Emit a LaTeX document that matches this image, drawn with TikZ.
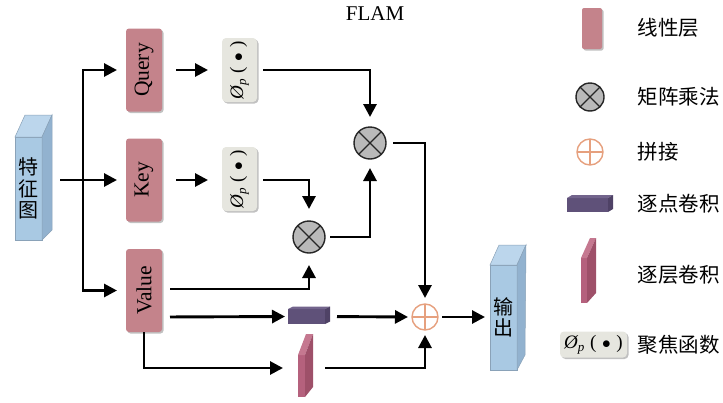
\documentclass[tikz,border=0pt]{standalone}
\usepackage{fontspec}
\setmainfont{Liberation Serif}
\newfontfamily\cjk{Noto Sans CJK SC}
\usetikzlibrary{calc,shadows,arrows.meta}

\definecolor{linc}{HTML}{C4838B}
\definecolor{focc}{HTML}{E6E6DF}
\definecolor{catc}{HTML}{E6A07E}
\definecolor{blufront}{HTML}{A9C9E3}
\definecolor{blutop}{HTML}{BCD6EC}
\definecolor{bluside}{HTML}{92B2CF}
\definecolor{bluedge}{HTML}{8AA2B8}
\definecolor{pwfront}{HTML}{5F5179}
\definecolor{pwtop}{HTML}{72648C}
\definecolor{pwside}{HTML}{4F4266}
\definecolor{dwfront}{HTML}{B5617D}
\definecolor{dwtop}{HTML}{C57890}
\definecolor{dwside}{HTML}{9E5069}

% focusing function symbol
\newcommand{\phitext}{{\itshape Ø}\raisebox{-0.35ex}{\fontsize{13}{13}\selectfont\itshape p}\hspace{0.3em}(\hspace{0.3em}$\bullet$\hspace{0.3em})}

\begin{document}
\begin{tikzpicture}[x=1pt,y=-1pt,
  wire/.style={line width=2.9pt},
  arr/.style={wire,-{Triangle[length=13pt,width=13pt]}},
  shad/.style={drop shadow={shadow xshift=1.5pt,shadow yshift=-1.5pt,opacity=.35,fill=black!70}},
  linbox/.style={fill=linc,rounded corners=3pt,shad,minimum width=36pt,minimum height=83pt,
    inner sep=0pt,outer sep=0pt,font=\fontsize{21.5}{24}\selectfont},
  focbox/.style={fill=focc,rounded corners=4pt,shad,minimum width=35pt,minimum height=64pt,
    inner sep=0pt,outer sep=0pt,font=\fontsize{19}{22}\selectfont},
  mul/.style={circle,draw=black!85,line width=1.4pt,fill=gray!55,minimum size=32pt,inner sep=0pt,outer sep=0pt,
    path picture={\draw[line width=1.2pt,black!85]
      (path picture bounding box.north west) -- (path picture bounding box.south east)
      (path picture bounding box.north east) -- (path picture bounding box.south west);}},
  catop/.style={circle,draw=catc,line width=1.4pt,minimum size=26pt,inner sep=0pt,outer sep=0pt,
    path picture={\draw[catc,line width=1.4pt]
      (path picture bounding box.north) -- (path picture bounding box.south)
      (path picture bounding box.west) -- (path picture bounding box.east);}},
  front/.style={draw=bluedge,line width=.5pt,fill=blufront,inner sep=0pt,outer sep=0pt,
    align=center,font=\cjk\fontsize{20}{21.5}\selectfont},
  face/.style={draw=bluedge,line width=.5pt},
  legtext/.style={anchor=west,font=\cjk\fontsize{20.5}{22}\selectfont}
]
\useasboundingbox (0,0) rectangle (723,402);

% title
\node[font=\fontsize{21}{23}\selectfont] (title) at (375,14) {FLAM};

% input feature map (prism)
\node[front,minimum width=27pt,minimum height=103pt] (fm) at (28.5,188.5) {特\\征\\图};
\path[face,fill=blutop] (fm.north west) -- ++(10,-22) -- ++(27,0) -- (fm.north east) -- cycle;
\path[face,fill=bluside] (fm.north east) -- ++(10,-22) -- ($(fm.south east)+(10,-10)$) -- (fm.south east) -- cycle;

% output feature map (prism)
\node[front,minimum width=27pt,minimum height=105pt] (out) at (503.5,317.5) {输\\出};
\path[face,fill=blutop] (out.north west) -- ++(9,-20) -- ++(27,0) -- (out.north east) -- cycle;
\path[face,fill=bluside] (out.north east) -- ++(9,-20) -- ($(out.south east)+(8,-15)$) -- (out.south east) -- cycle;

% linear layers
\node[linbox] (q) at (144,70) {\rotatebox{90}{Query}};
\node[linbox] (k) at (144,180) {\rotatebox{90}{Key}};
\node[linbox] (v) at (144,290.5) {\rotatebox{90}{Value}};

% focusing functions
\node[focbox] (pq) at (239.5,70) {\rotatebox{90}{\phitext}};
\node[focbox] (pk) at (239.5,179) {\rotatebox{90}{\phitext}};

% operators
\node[mul] (m1) at (370,143) {};
\node[mul] (m2) at (309,237) {};
\node[catop] (cat) at (425,317) {};

% pointwise convolution
\node[fill=pwfront,inner sep=0pt,outer sep=0pt,minimum width=37pt,minimum height=15pt] (pw) at (306.5,316.5) {};
\fill[pwtop] (pw.north west) -- ++(5,-2.5) -- ++(37,0) -- (pw.north east) -- cycle;
\fill[pwside] (pw.north east) -- ++(5,-2.5) -- ++(0,15) -- (pw.south east) -- cycle;

% depthwise convolution
\node[fill=dwfront,inner sep=0pt,outer sep=0pt,minimum width=7pt,minimum height=42pt] (dw) at (301.5,376) {};
\fill[dwtop] (dw.north west) -- ++(8,-21) -- ++(7,0) -- (dw.north east) -- cycle;
\fill[dwside] (dw.north east) -- ++(8,-21) -- ($(dw.south east)+(8,-10)$) -- (dw.south east) -- cycle;

% connectors
\coordinate (sp) at (83,180);
\draw[wire,shorten <=18pt] (fm.east |- sp) -- (sp);
\draw[arr,shorten >=9pt] (sp) |- (q.west);
\draw[arr,shorten >=9pt] (sp) -- (k.west);
\draw[arr,shorten >=9pt] (sp) |- (v.west);

\draw[arr,shorten <=14pt,shorten >=14pt] (q.east) -- (pq.west);
\draw[arr,shorten <=14pt,shorten >=14pt] (k.east) -- (k.east -| pk.west);

\draw[arr,shorten <=6pt,shorten >=10pt] (pq.east) -| (m1.north);
\draw[arr,shorten <=6pt,shorten >=12pt] (pk.east |- k.east) -| (m2.north);
\draw[arr,shorten <=8pt,shorten >=12pt] ([yshift=1.5pt]v.east) -| (m2.south);
\draw[arr,shorten <=5pt,shorten >=9pt] (m2.east) -| (m1.south);
\draw[arr,shorten <=7pt,shorten >=6pt] (m1.east) -| (cat.north);

\draw[arr,shorten <=8pt,shorten >=3pt] ([yshift=-26.5pt]v.east) -- (pw.west);
\draw[arr,shorten <=12pt,shorten >=4pt] (pw.east) -- (cat.west);
\coordinate (dwin) at (dw.west |- 0,368);
\draw[arr,shorten >=15pt] (v.south) |- (dwin);
\draw[arr,shorten <=20pt,shorten >=5pt] (dw.east |- dwin) -| (cat.south);
\draw[arr,shorten <=4pt,shorten >=5pt] (cat.east) -- (out.west |- cat.east);

% legend
\node[fill=linc,rounded corners=2pt,shad,minimum width=20pt,minimum height=41pt,inner sep=0pt] (lg1) at (592,28.5) {};
\node[legtext] (lt1) at (634,28) {线性层};
\node[mul,minimum size=28pt] (lg2) at (590,97) {};
\node[legtext] (lt2) at (634,97) {矩阵乘法};
\node[catop] (lg3) at (590,152) {};
\node[legtext] (lt3) at (634,152) {拼接};
\node[fill=pwfront,inner sep=0pt,outer sep=0pt,minimum width=41pt,minimum height=14pt] (lg4) at (587.5,205) {};
\fill[pwtop] (lg4.north west) -- ++(5,-3) -- ++(41,0) -- (lg4.north east) -- cycle;
\fill[pwside] (lg4.north east) -- ++(5,-3) -- ++(0,14) -- (lg4.south east) -- cycle;
\node[legtext] (lt4) at (634,204) {逐点卷积};
\node[fill=dwfront,inner sep=0pt,outer sep=0pt,minimum width=6pt,minimum height=45pt] (lg5) at (584,280.5) {};
\fill[dwtop] (lg5.north west) -- ++(9,-20) -- ++(6,0) -- (lg5.north east) -- cycle;
\fill[dwside] (lg5.north east) -- ++(9,-20) -- ($(lg5.south east)+(9,-10)$) -- (lg5.south east) -- cycle;
\node[legtext] (lt5) at (634,275) {逐层卷积};
\node[fill=focc,rounded corners=4pt,shad,minimum width=67pt,minimum height=26pt,inner sep=0pt,
  font=\fontsize{19}{22}\selectfont] (lg6) at (593.5,344.5) {\phitext};
\node[legtext] (lt6) at (634,345) {聚焦函数};
\end{tikzpicture}
\end{document}
